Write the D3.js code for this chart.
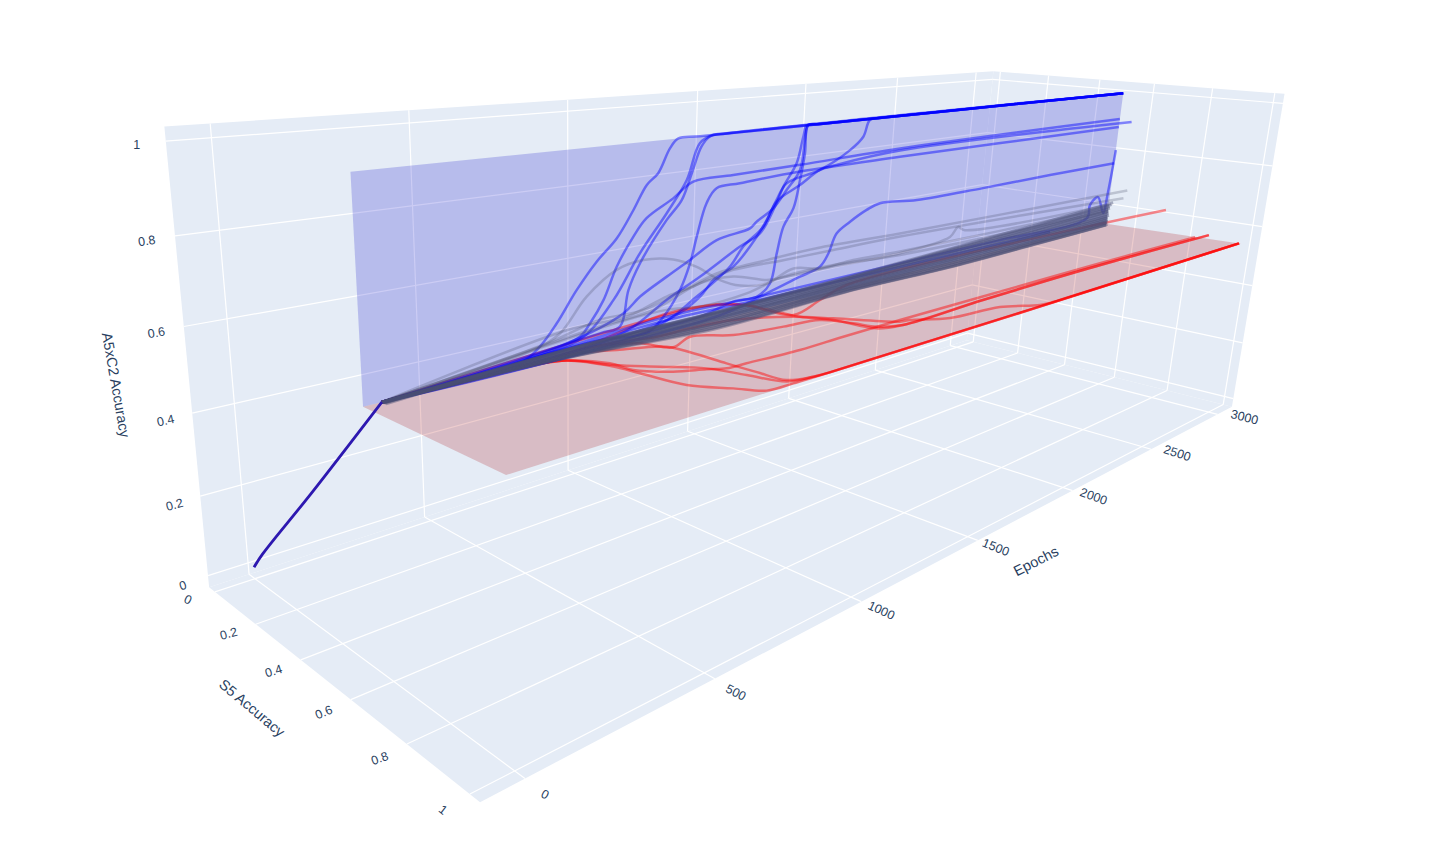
<!DOCTYPE html><html><head><meta charset="utf-8"><script src="https://cdn.jsdelivr.net/npm/d3@7"></script>
<style>html,body{margin:0;background:#fff}svg{display:block}text{font-family:"Liberation Sans",sans-serif;fill:#2a3f5f}</style></head><body><svg id="c" width="1437" height="860"></svg>
<script>
// ---- data (epochs, S5 accuracy, A5xC2 accuracy) ----
const epochTicks=[0,500,1000,1500,2000,2500,3000];
const s5Ticks=[0,.2,.4,.6,.8,1];
const a5Ticks=[0,.2,.4,.6,.8,1];
const warmupEpochs=[0,3,17,34], warmupS5=[0,.045,.27,.55], warmupA5=[0,.05,.27,.55];
const blueS5=[.55,.55,.55,.55,.55,.55,.55,.55,.55,.55,.58,.55,.55];
const blueFinalS5=[.55,.55,.55,.55,.55,.55,.55,.55,.55,.55,.593,.55,.55];
const blueEpochs=[
[34,375,430,477,534,592,651,701,741,776,812,838,909,3000],
[34,449,554,643,723,806,869,909,954,1023,3000],
[34,603,664,689,724,806,854,885,915,942,999,3000],
[34,412,544,573,613,652,702,742,826,891,1028,1278,1708,3000],
[34,603,749,803,856,888,908,938,971,1053,1279,1711,3000],
[34,505,674,726,811,887,978,1097,1121,1182,1230,1279,1292,1302,1340,1420,3000],
[34,603,706,812,923,1063,1136,1188,1217,1264,1285,1296,1330,1420,3000],
[34,928,1046,1134,1183,1204,1225,1261,1281,1295,1302,1340,1420,3000],
[34,814,926,971,1041,1100,1159,1193,1229,1360,1482,1536,1560,1600,1700,3000],
[34,987,1172,1303,1384,1417,1447,1503,1574,1633,1811,2158,2559,3000],
[16,731,883,996,1041,1112,1158,1245,1322,1389,1665,3000],
[34,322,814,1172,1752,2289,2850,2860,2912,2965,2982,3000],
[34,322,814,1173,1754,2603]];
const blueA5=[
[.55,.56,.587,.63,.695,.75,.794,.852,.904,.927,.98,1,1,1],
[.55,.568,.586,.655,.751,.833,.903,.984,1,1,1],
[.55,.585,.59,.671,.728,.817,.858,.917,.976,.997,1,1],
[.55,.568,.588,.613,.66,.73,.792,.829,.865,.897,.9,.903,.911,.913],
[.55,.569,.559,.589,.645,.705,.766,.842,.874,.878,.886,.888,.886],
[.55,.58,.619,.65,.684,.713,.749,.763,.777,.803,.844,.89,.964,1,1,1,1],
[.55,.562,.582,.628,.667,.722,.746,.807,.854,.908,.973,1,1,1,1],
[.55,.568,.586,.584,.611,.686,.752,.795,.864,.93,1,1,1,1],
[.55,.579,.618,.652,.675,.717,.777,.823,.861,.883,.924,.955,.997,1,1,1],
[.55,.558,.587,.611,.626,.657,.707,.732,.756,.768,.758,.758,.761,.762],
[.562,.576,.631,.687,.73,.77,.827,.859,.89,.897,.912,.907],
[.55,.56,.587,.583,.583,.582,.587,.631,.653,.592,.664,.807],
[.55,.558,.579,.574,.573,.569]];
const redEpochs=[
[34,327,413,486,535,547,567,625,667,746,800,3030],
[34,327,486,543,612,681,713,744,814,870,3030],
[34,327,486,545,552,609,676,715,775,945,1110,1341,1713,2328,3000],
[34,327,538,624,729,739,741,745,752,814,870,3030],
[34,418,601,701,737,829,918,1067,1185,1225,1245,1308,1684,2238,3000],
[34,418,648,768,880,1017,1157,1223,1328,1361,1456,1654,1757,1818,1870,3030],
[34,521,934,1091,1150,1162,1170,1211,1232,1308,1684,2238,3000],
[34,922,1096,1150,1170,1342,1532,3000]];
const redS5=[
[.55,.543,.548,.573,.67,.741,.86,.937,.991,.996,.998,.998],
[.55,.543,.573,.662,.735,.808,.895,.979,.994,.998,.998],
[.55,.543,.573,.648,.715,.778,.813,.836,.839,.849,.845,.843,.845,.848,.865],
[.55,.543,.546,.584,.637,.712,.811,.896,.972,.994,.998,.998],
[.55,.542,.531,.579,.65,.614,.669,.697,.715,.788,.843,.875,.866,.861,.909],
[.55,.542,.535,.564,.563,.579,.653,.727,.852,.859,.913,.935,.992,.998,.998,.998],
[.55,.532,.43,.453,.507,.595,.664,.737,.852,.875,.866,.861,.909],
[.55,.441,.448,.501,.643,.59,.531,.754]];
const redA5=.55;
const redFinalA5=[.55,.55,.553,.55,.567,.55,.567,.628];
const grayS5=[.55,.58,.58,.55,.55];
const grayFinalS5=[.55,.61,.6,.55,.55];
const grayEpochs=[
[34,412,486,563,652,734,831,911,995,1069,1170,1274,1385,1529,1748,3000],
[16,424,576,708,859,949,1131,1327,1696,3000],
[16,480,657,782,870,915,1008,1195,1398,1698,3000],
[34,603,769,924,1043,1170,1248,1442,1748,2000,2039,2079,3000],
[34,685,813,927,1095,1235,1442,1749,3000]];
const grayA5=[
[.55,.583,.606,.676,.723,.734,.722,.693,.648,.623,.613,.637,.621,.624,.618,.606],
[.562,.602,.627,.627,.658,.677,.684,.688,.681,.675],
[.562,.621,.621,.647,.657,.666,.677,.675,.674,.672,.647],
[.55,.601,.611,.651,.65,.622,.619,.618,.613,.628,.653,.639,.616],
[.55,.602,.604,.593,.599,.621,.622,.608,.595]];
const bandEpochs=[34,500,1000,1500,2000,2500,3000];
const bandS5=[.55,.55,.555,.55,.552,.55,.555,.55,.553,.55,.552,.55,.556,.55,.554,.55,.552,.55,.556,.554,.56,.565];
const bandA5=[
[.55,.548,.53,.54,.535,.54,.546],[.55,.547,.527,.538,.534,.539,.545],[.55,.549,.533,.541,.538,.543,.548],
[.55,.55,.536,.544,.54,.545,.551],[.55,.551,.538,.545,.543,.547,.554],[.55,.551,.54,.547,.546,.55,.557],
[.55,.553,.543,.55,.548,.553,.56],[.55,.552,.545,.551,.551,.555,.563],[.55,.554,.547,.553,.554,.559,.566],
[.55,.555,.55,.555,.556,.562,.569],[.55,.556,.552,.558,.559,.564,.573],[.55,.557,.554,.56,.562,.568,.576],
[.55,.558,.556,.562,.565,.571,.58],[.55,.559,.558,.564,.568,.574,.584],[.55,.561,.56,.566,.571,.578,.588],
[.55,.562,.562,.568,.574,.581,.592],[.55,.563,.564,.57,.578,.585,.596],[.55,.565,.566,.573,.581,.589,.601],
[.55,.566,.569,.576,.585,.593,.606],[.55,.568,.571,.578,.588,.598,.612],[.55,.57,.573,.581,.593,.604,.619],
[.55,.572,.576,.585,.598,.611,.627]];
// ---- camera: fitted from the axis box corners and tick ends ----
const eR=[-100,3120],sR=[-.03,1.03],aR=[-.03,1.03];
const cameraFit=[[-100,-.03,1.03,165.7,127.3],[-100,-.03,-.03,209,586.7],[-100,1.03,-.03,481,802],[3120,1.03,-.03,1234,406.7],[3120,1.03,1.03,1286.7,91.7],[3120,-.03,1.03,995.7,71],[3120,-.03,-.03,970,341.7],
[0,-.03,1.03,208.3,124],[500,-.03,1.03,408,110],[1000,-.03,1.03,567,100],[1500,-.03,1.03,697,91],[2000,-.03,1.03,806.7,83.3],[2500,-.03,1.03,898,77],[3000,-.03,1.03,977.7,72.3],
[0,-.03,-.03,246.7,575],[500,-.03,-.03,422.7,516.7],[1000,-.03,-.03,567.7,470.7],[1500,-.03,-.03,687.3,431.7],[2000,-.03,-.03,789,398.3],[2500,-.03,-.03,876.7,370],[3000,-.03,-.03,951.7,345],
[0,1.03,-.03,523.3,780],[500,1.03,-.03,714.6,678.3],[1000,1.03,-.03,864,601.7],[1500,1.03,-.03,981.8,540.7],[2000,1.03,-.03,1074.6,491],[2500,1.03,-.03,1147.9,451],[3000,1.03,-.03,1213,415],
[3120,.2,-.03,1015,353],[3120,.4,-.03,1062,364],[3120,.6,-.03,1114,376.7],[3120,.8,-.03,1166.7,390],[3120,1,-.03,1225,405],
[3120,.2,1.03,1046,75],[3120,.4,1.03,1097,80],[3120,.6,1.03,1153,85],[3120,.8,1.03,1213,89],[3120,1,1.03,1275,93],
[-100,-.03,1,166.7,141.7],[-100,-.03,.8,176,236.7],[-100,-.03,.6,184,327],[-100,-.03,.4,192.7,414],[-100,-.03,.2,201,497],[-100,-.03,0,208.3,577],
[-100,0,-.03,215,590],[-100,.2,-.03,255,623],[-100,.4,-.03,300,658],[-100,.6,-.03,351,698],[-100,.8,-.03,407,743],[-100,1,-.03,470,794]];
const eS=d3.scaleLinear().domain(eR).range([0,1]),sS=d3.scaleLinear().domain(sR).range([0,1]),aS=d3.scaleLinear().domain(aR).range([0,1]);
function solve(M,b){const n=b.length,A=M.map((r,i)=>[...r,b[i]]);for(let i=0;i<n;i++){let p=i;for(let k=i+1;k<n;k++)if(Math.abs(A[k][i])>Math.abs(A[p][i]))p=k;[A[i],A[p]]=[A[p],A[i]];for(let k=0;k<n;k++)if(k!==i){const f=A[k][i]/A[i][i];for(let j=i;j<=n;j++)A[k][j]-=f*A[i][j]}}return A.map((r,i)=>r[n]/r[i])}
const rows=[],rhs=[];cameraFit.forEach(([e,s,a,X,Y])=>{const u=eS(e),v=sS(s),w=aS(a);rows.push([u,v,w,1,0,0,0,0,-X*u,-X*v,-X*w]);rhs.push(X);rows.push([0,0,0,0,u,v,w,1,-Y*u,-Y*v,-Y*w]);rhs.push(Y)});
const AtA=d3.range(11).map(i=>d3.range(11).map(j=>d3.sum(rows,r=>r[i]*r[j]))),Atb=d3.range(11).map(i=>d3.sum(rows,(r,k)=>r[i]*rhs[k]));
const p=solve(AtA,Atb);
function P(e,s,a){const u=eS(e),v=sS(s),w=aS(a),d=p[8]*u+p[9]*v+p[10]*w+1;return[(p[0]*u+p[1]*v+p[2]*w+p[3])/d,(p[4]*u+p[5]*v+p[6]*w+p[7])/d]}
// ---- draw ----
const svg=d3.select('#c');
const poly=(pts,fill,op=1)=>svg.append('path').attr('d','M'+pts.map(q=>q.join(',')).join('L')+'Z').attr('fill',fill).attr('fill-opacity',op);
const [e0,e1]=eR,[s0,s1]=sR,[a0,a1]=aR;
poly([P(e0,s0,a0),P(e1,s0,a0),P(e1,s0,a1),P(e0,s0,a1)],'#E5ECF6');
poly([P(e1,s0,a0),P(e1,s1,a0),P(e1,s1,a1),P(e1,s0,a1)],'#E5ECF6');
poly([P(e0,s0,a0),P(e1,s0,a0),P(e1,s1,a0),P(e0,s1,a0)],'#E5ECF6');
const seg=(A,B)=>svg.append('line').attr('x1',A[0]).attr('y1',A[1]).attr('x2',B[0]).attr('y2',B[1]).attr('stroke','#fff').attr('stroke-width',1.2);
epochTicks.forEach(e=>{seg(P(e,s0,a0),P(e,s1,a0));seg(P(e,s0,a0),P(e,s0,a1))});
s5Ticks.forEach(s=>{seg(P(e0,s,a0),P(e1,s,a0));seg(P(e1,s,a0),P(e1,s,a1))});
a5Ticks.forEach(a=>{seg(P(e0,s0,a),P(e1,s0,a));seg(P(e1,s0,a),P(e1,s1,a))});
poly([P(-8,.55,.55),P(3000,.55,.55),P(3030,1,.55),P(-8,1,.55)],'rgb(165,0,5)',.2);
poly([P(-8,.55,.55),P(3000,.55,.55),P(3000,.55,1),P(-8,.55,1)],'rgb(0,0,200)',.2);
const L=d3.line().x(d=>P(...d)[0]).y(d=>P(...d)[1]).curve(d3.curveCatmullRom.alpha(.5));
const dr=(l,c,op,w)=>svg.append('path').attr('d',L(l)).attr('fill','none').attr('stroke',c).attr('stroke-opacity',op).attr('stroke-width',w).attr('stroke-linejoin','round');
redEpochs.forEach((E,i)=>dr(E.map((e,j)=>[e,redS5[i][j],j===E.length-1?redFinalA5[i]:redA5]),'#f00',.45,2.5));
blueEpochs.forEach((E,i)=>dr(E.map((e,j)=>[e,j===E.length-1?blueFinalS5[i]:blueS5[i],blueA5[i][j]]),'#00f',.45,2.5));
grayEpochs.forEach((E,i)=>dr(E.map((e,j)=>[e,j===E.length-1?grayFinalS5[i]:grayS5[i],grayA5[i][j]]),'#4a4e6a',.26,2.5));
bandA5.forEach((A,i)=>dr(A.map((a,j)=>[bandEpochs[j],bandS5[i],a]),'#4a4e74',.42,2.8));
dr(warmupEpochs.map((e,j)=>[e,warmupS5[j],warmupA5[j]]),'#2d18b0',1,2.8);
// ---- labels ----
const T=(x,y,r,t,fs)=>svg.append('text').attr('transform',`translate(${x},${y}) rotate(${r})`).attr('text-anchor','middle').attr('dominant-baseline','central').attr('font-size',fs).text(t);
const fmt=d3.format('~g');
const eRot=[28,27,25,22,20,18,14],eDx=[20,21,20,18,21,26,27],eDy=[16,14,9,7,6,4,3];
epochTicks.forEach((e,i)=>{const q=P(e,s1,a0);T(q[0]+eDx[i],q[1]+eDy[i],eRot[i],e,12.5)});
const sRot=[25,-15,-17,-22,-20,38];
s5Ticks.forEach((s,i)=>{const q=P(e0,s,a0);T(q[0]-27,q[1]+8+8*s,sRot[i],fmt(s),12.5)});
const aRot=[-17,-15,-13,-10,-8,0];
a5Ticks.forEach((a,i)=>{const q=P(e0,s0,a);T(q[0]-25-4*a,q[1]+10-6*a,aRot[i],fmt(a),12.5)});
T(1036,561,-27,'Epochs',14.5);T(252,708,40,'S5 Accuracy',14.5);T(116,385,80,'A5xC2 Accuracy',14.5);
</script></body></html>
